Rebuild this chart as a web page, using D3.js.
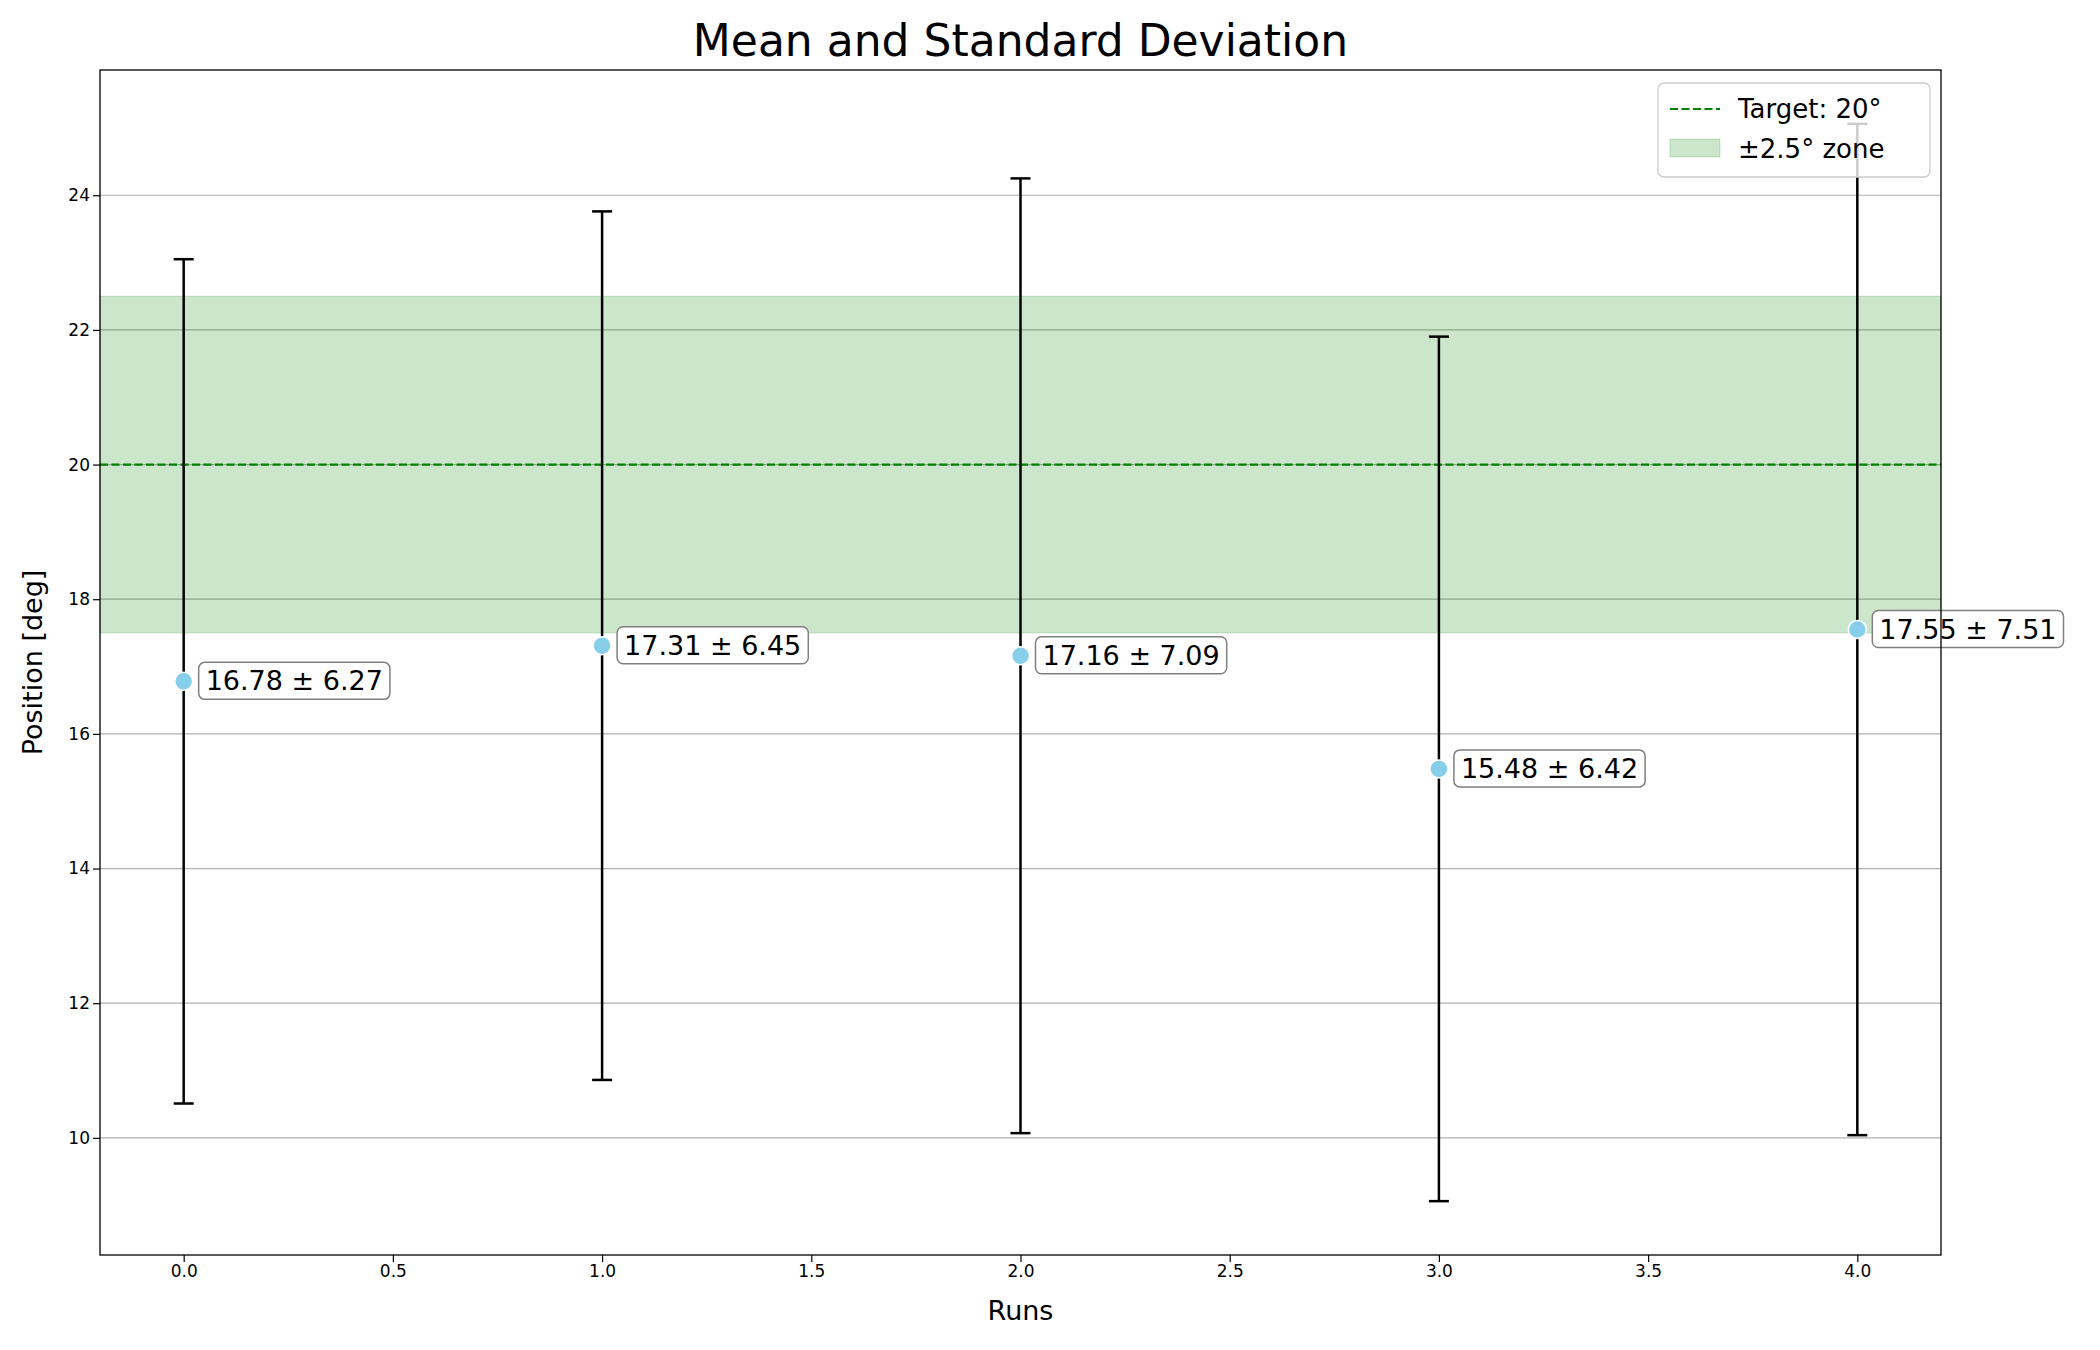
<!DOCTYPE html>
<html><head><meta charset="utf-8">
<script src="https://cdn.jsdelivr.net/npm/d3@7"></script>
<style>body{margin:0;background:#fff;font-family:"DejaVu Sans",sans-serif}</style>
</head><body><svg id="c" width="2100" height="1350"></svg>
<script>
const runs = [0, 1, 2, 3, 4]
const means = [16.78, 17.31, 17.16, 15.48, 17.55]
const stds = [6.27, 6.45, 7.09, 6.42, 7.51]
const target = 20
const zone = 2.5
const xTicks = [0, 0.5, 1, 1.5, 2, 2.5, 3, 3.5, 4]
const yTicks = [10, 12, 14, 16, 18, 20, 22, 24]

const L = 100, R = 1941, T = 70, B = 1255
const svg = d3.select('#c')
const x = d3.scaleLinear().domain([-0.2, 4.2]).range([L, R])
const y = d3.scaleLinear().domain([8.26, 25.86]).range([B, T])

// grid
svg.append('g').selectAll('line').data(yTicks).join('line')
  .attr('x1', L).attr('x2', R).attr('y1', d => y(d)).attr('y2', d => y(d))
  .attr('stroke', '#b0b0b0').attr('stroke-width', 1.2)

// zone
svg.append('rect').attr('x', L).attr('width', R - L)
  .attr('y', y(target + zone)).attr('height', y(target - zone) - y(target + zone))
  .attr('fill', 'green').attr('fill-opacity', 0.2).attr('stroke', 'green').attr('stroke-opacity', 0.2)
svg.append('line').attr('x1', L).attr('x2', R).attr('y1', y(target)).attr('y2', y(target))
  .attr('stroke', 'green').attr('stroke-width', 2.2).attr('stroke-dasharray', '8,3.5')

// error bars
const eb = svg.append('g').attr('stroke', 'black').attr('stroke-width', 2.5)
runs.forEach((r, i) => {
  const lo = y(means[i] - stds[i]), hi = y(means[i] + stds[i]), cx = x(r)
  eb.append('line').attr('x1', cx).attr('x2', cx).attr('y1', lo).attr('y2', hi)
  eb.append('line').attr('x1', cx - 10).attr('x2', cx + 10).attr('y1', lo).attr('y2', lo)
  eb.append('line').attr('x1', cx - 10).attr('x2', cx + 10).attr('y1', hi).attr('y2', hi)
})
svg.append('g').selectAll('circle').data(runs).join('circle')
  .attr('cx', d => x(d)).attr('cy', (d, i) => y(means[i])).attr('r', 9)
  .attr('fill', 'skyblue').attr('stroke', 'white').attr('stroke-width', 1.5)

// annotations
runs.forEach((r, i) => {
  const g = svg.append('g')
  const t = g.append('text').attr('x', x(r) + 22).attr('y', y(means[i]) + 9)
    .attr('font-size', 27).text(`${means[i].toFixed(2)} ± ${stds[i].toFixed(2)}`)
  const bb = t.node().getBBox()
  g.insert('rect', 'text').attr('x', bb.x - 7).attr('y', bb.y - 3)
    .attr('width', bb.width + 14).attr('height', bb.height + 6).attr('rx', 6)
    .attr('fill', 'white').attr('stroke', '#808080').attr('stroke-width', 1.5)
})

// axes
const xa = svg.append('g').attr('transform', `translate(0,${B})`)
  .call(d3.axisBottom(x).tickValues(xTicks).tickFormat(d3.format('.1f')).tickSizeOuter(0).tickSize(7))
const ya = svg.append('g').attr('transform', `translate(${L},0)`)
  .call(d3.axisLeft(y).tickValues(yTicks).tickFormat(d3.format('d')).tickSizeOuter(0).tickSize(7))
;[xa, ya].forEach(a => {
  a.select('.domain').remove()
  a.selectAll('text').attr('font-size', 17).attr('font-family', 'DejaVu Sans').attr('fill', 'black')
  a.selectAll('line').attr('stroke', 'black').attr('stroke-width', 1.2)
})
svg.append('rect').attr('x', L).attr('y', T).attr('width', R - L).attr('height', B - T)
  .attr('fill', 'none').attr('stroke', 'black').attr('stroke-width', 1.3)

svg.append('text').attr('x', (L + R) / 2).attr('y', 56).attr('text-anchor', 'middle')
  .attr('font-size', 44).text('Mean and Standard Deviation')
svg.append('text').attr('x', (L + R) / 2).attr('y', 1320).attr('text-anchor', 'middle')
  .attr('font-size', 27).text('Runs')
svg.append('text').attr('transform', `translate(42,${(T + B) / 2}) rotate(-90)`)
  .attr('text-anchor', 'middle').attr('font-size', 27).text('Position [deg]')

// legend
const lg = svg.append('g').attr('transform', 'translate(1658,83)')
lg.append('rect').attr('width', 272).attr('height', 94).attr('rx', 6)
  .attr('fill', 'white').attr('fill-opacity', 0.8).attr('stroke', '#cccccc').attr('stroke-width', 1.3)
lg.append('line').attr('x1', 12).attr('x2', 62).attr('y1', 26).attr('y2', 26)
  .attr('stroke', 'green').attr('stroke-width', 2.2).attr('stroke-dasharray', '8,3.5')
lg.append('rect').attr('x', 12).attr('y', 56).attr('width', 50).attr('height', 18)
  .attr('fill', 'green').attr('fill-opacity', 0.2).attr('stroke', 'green').attr('stroke-opacity', 0.2)
lg.append('text').attr('x', 80).attr('y', 35).attr('font-size', 26).text('Target: 20°')
lg.append('text').attr('x', 80).attr('y', 75).attr('font-size', 26).text('±2.5° zone')
</script></body></html>
